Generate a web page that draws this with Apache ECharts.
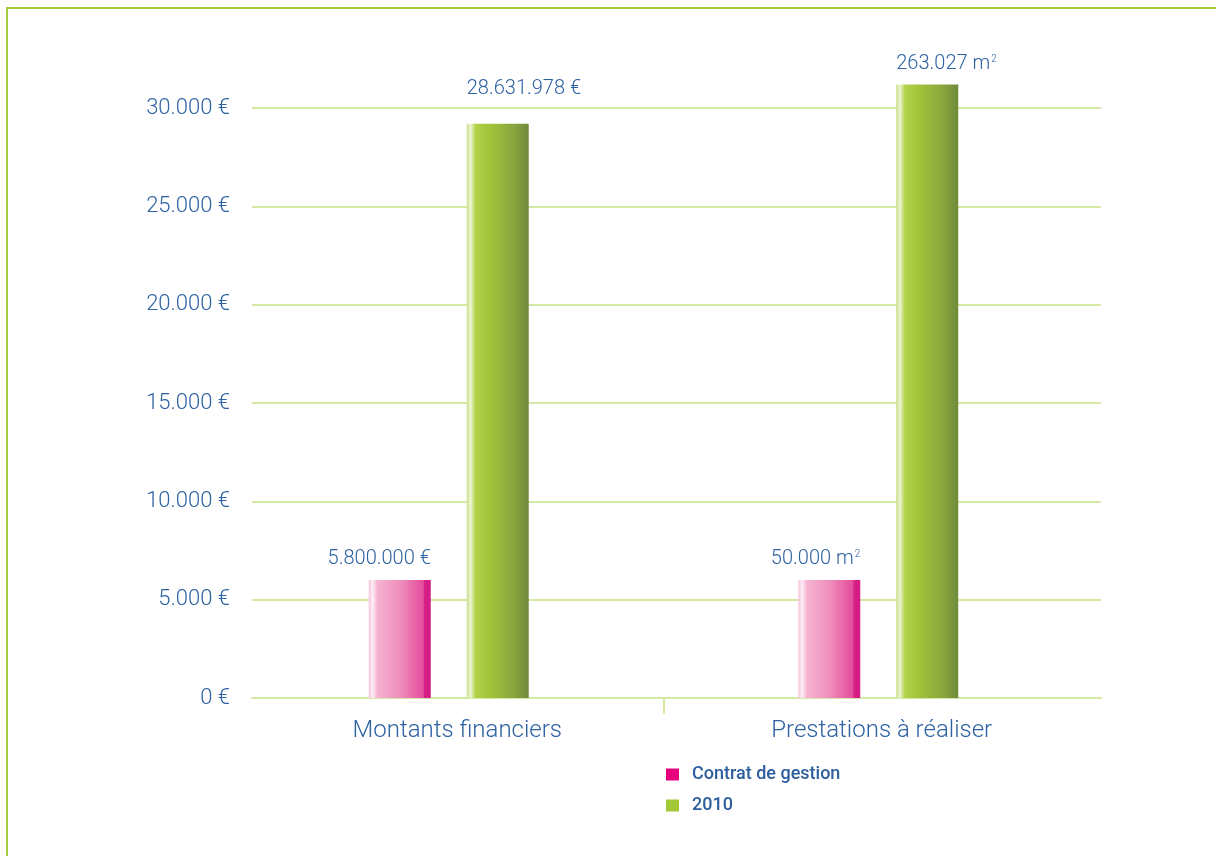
<!DOCTYPE html>
<html>
<head>
<meta charset="utf-8">
<script src="https://cdn.jsdelivr.net/npm/echarts@6/dist/echarts.min.js"></script>
<style>
html,body{margin:0;padding:0;background:#fff;}
#chart{width:1216px;height:856px;}
</style>
</head>
<body>
<div id="chart"></div>
<script>
const categories = ['Montants financiers', 'Prestations à réaliser'];
const seriesNames = ['Contrat de gestion', '2010'];
const contratValues = [6000, 6000];
const valuesDeux = [29200, 31200];
const contratLabels = ['5.800.000 €', '50.000 m{s|2}'];
const deuxLabels = ['28.631.978 €', '263.027 m{s|2}'];
const yTickLabels = ['0 €', '5.000 €', '10.000 €', '15.000 €', '20.000 €', '25.000 €', '30.000 €'];

const textBlue = '#2e62a3';
const gridGreen = '#d4e9a3';
const borderGreen = '#a6cc3c';

const chart = echarts.init(document.getElementById('chart'));

const pinkGrad = new echarts.graphic.LinearGradient(0, 0, 1, 0, [
  {offset: 0, color: '#f5c2da'},
  {offset: 0.06, color: '#fdeef5'},
  {offset: 0.14, color: '#f5b3d1'},
  {offset: 0.5, color: '#ef8fbc'},
  {offset: 0.88, color: '#e44c9d'},
  {offset: 0.9, color: '#d81e87'},
  {offset: 1, color: '#d31c84'}
]);
const greenGrad = new echarts.graphic.LinearGradient(0, 0, 1, 0, [
  {offset: 0, color: '#c9de86'},
  {offset: 0.06, color: '#eef5d6'},
  {offset: 0.14, color: '#b2d24c'},
  {offset: 0.35, color: '#a2c53a'},
  {offset: 0.75, color: '#8aa63e'},
  {offset: 1, color: '#6f8a3a'}
]);

function labelFor(arr, side, dy) {
  return {
    show: true,
    position: [side === 'right' ? '100%' : 0, dy],
    align: side,
    verticalAlign: 'bottom',
    color: textBlue,
    fontFamily: 'Roboto',
    fontWeight: 300,
    fontSize: 20,
    formatter: p => arr[p.dataIndex],
    rich: {
      s: {fontSize: 10, verticalAlign: 'top', color: textBlue, fontFamily: 'Roboto', padding: [0, 0, 10, 1]}
    }
  };
}

chart.setOption({
  animation: false,
  backgroundColor: '#fff',
  graphic: [
    {type: 'rect', shape: {x: 6, y: 7, width: 2, height: 849}, style: {fill: borderGreen}, silent: true},
    {type: 'rect', shape: {x: 6, y: 7, width: 1210, height: 2}, style: {fill: borderGreen}, silent: true}
  ],
  legend: {
    orient: 'vertical',
    left: 666,
    top: 765,
    padding: 0,
    itemWidth: 13,
    itemHeight: 12,
    itemGap: 12,
    icon: 'rect',
    data: [
      {name: seriesNames[0], itemStyle: {color: '#e6007e'}},
      {name: seriesNames[1], itemStyle: {color: '#a2c837'}}
    ],
    textStyle: {color: '#2c5e9e', fontFamily: 'Roboto', fontWeight: 500, fontSize: 18, lineHeight: 19, padding: [0, 0, 0, 8]}
  },
  grid: [
    {left: 252, right: 115, top: 108, bottom: 158},
    {left: 234, right: 123, top: 108, bottom: 158},
    {left: 234, right: 123, top: 698, height: 16}
  ],
  xAxis: [
    {
      type: 'category', gridIndex: 0, data: categories,
      axisLine: {lineStyle: {color: gridGreen, width: 2}},
      axisTick: {show: false},
      axisLabel: {color: textBlue, fontFamily: 'Roboto', fontWeight: 300, fontSize: 24, margin: 21, padding: [0, 14, 0, 0]}
    },
    {
      type: 'category', gridIndex: 1, data: categories,
      axisLine: {show: false}, axisTick: {show: false}, axisLabel: {show: false}
    },
    {
      type: 'category', gridIndex: 2, data: categories,
      axisLine: {show: false}, axisTick: {show: false}, axisLabel: {show: false},
      splitLine: {show: true, showMinLine: false, showMaxLine: false, lineStyle: {color: gridGreen, width: 2}}
    }
  ],
  yAxis: [
    {
      type: 'value', gridIndex: 0, min: 0, max: 30000, interval: 5000,
      axisLine: {show: false}, axisTick: {show: false},
      splitLine: {lineStyle: {color: gridGreen, width: 2}},
      axisLabel: {
        color: textBlue, fontFamily: 'Roboto', fontWeight: 300, fontSize: 22, margin: 22,
        padding: [0, 0, 10, 0],
        formatter: v => yTickLabels[Math.round(v / 5000)]
      }
    },
    {
      type: 'value', gridIndex: 1, min: 0, max: 30000, interval: 5000, show: false,
      splitLine: {show: false}
    },
    {
      type: 'value', gridIndex: 2, min: 0, max: 1, show: false, splitLine: {show: false}
    }
  ],
  series: [
    {
      name: seriesNames[0], type: 'bar', xAxisIndex: 1, yAxisIndex: 1,
      data: contratValues, barWidth: 62, barGap: '58%', clip: false,
      color: '#e6007e',
      itemStyle: {color: pinkGrad},
      label: labelFor(contratLabels, 'right', -11)
    },
    {
      name: seriesNames[1], type: 'bar', xAxisIndex: 1, yAxisIndex: 1,
      data: valuesDeux.map((v, i) => i === 0 ? {value: v, label: {position: [0, -25]}} : v),
      barWidth: 62, barGap: '58%', clip: false,
      color: '#a2c837',
      itemStyle: {color: greenGrad},
      label: labelFor(deuxLabels, 'left', -10)
    }
  ]
});
</script>
</body>
</html>
